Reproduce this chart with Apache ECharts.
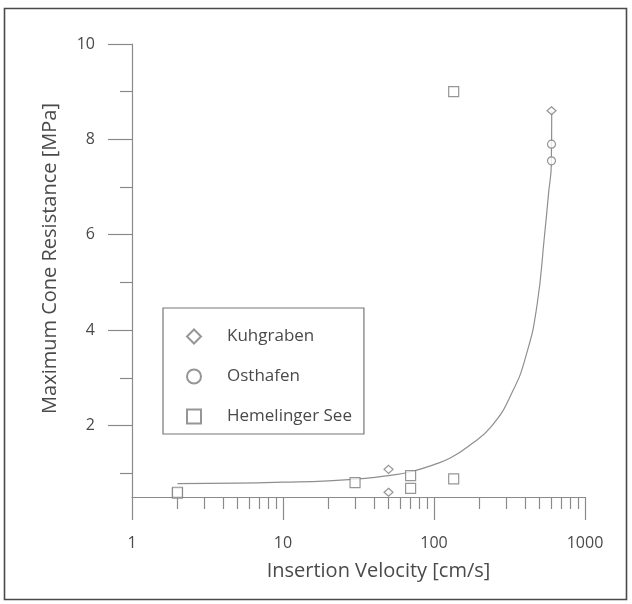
<!DOCTYPE html>
<html>
<head>
<meta charset="utf-8">
<script src="https://cdn.jsdelivr.net/npm/echarts@6/dist/echarts.min.js"></script>
<style>
  html, body { margin: 0; padding: 0; background: #fff; }
  #chart { width: 632px; height: 604px; }
</style>
</head>
<body>
<div id="chart"></div>
<script>
// measured points [velocity cm/s, max cone resistance MPa]
const kuhgraben = [[600, 8.6], [50, 1.08], [50, 0.6]];
const osthafen = [[600, 7.9], [600, 7.55]];
const hemelinger = [[2, 0.58], [2, 0.6], [30, 0.8], [70, 0.95], [70, 0.68], [135, 0.88], [135, 9.0]];

// fitted curve
const fitCurve = [
  [2, 0.78], [5, 0.79], [10, 0.81], [20, 0.84], [35, 0.89], [50, 0.95], [70, 1.03],
  [100, 1.18], [130, 1.33], [170, 1.57], [240, 1.98], [330, 2.7], [410, 3.5],
  [480, 4.5], [540, 6.0], [575, 6.9], [598, 7.45], [602, 8.6]
];

const majorTicksY = [2, 4, 6, 8, 10];
const minorTicksY = [1, 3, 5, 7, 9];
const minorTicksX = [2, 3, 4, 5, 6, 7, 8, 9, 20, 30, 40, 50, 60, 70, 80, 90, 200, 300, 400, 500, 600, 700, 800, 900];

const axisColor = '#8a8a8a';
const textColor = '#4a4a4a';
const markColor = '#7c7c7c';
const font = 'Open Sans';

const chart = echarts.init(document.getElementById('chart'));

const markStyle = {
  color: '#fff',
  borderColor: markColor,
  borderWidth: 1.2
};

chart.setOption({
  animation: false,
  backgroundColor: '#fff',
  graphic: [{
    type: 'rect',
    shape: { x: 4.5, y: 8.5, width: 622, height: 591 },
    style: { fill: 'none', stroke: '#4a4a4a', lineWidth: 1.6 },
    silent: true
  }],
  grid: { left: 132, right: 47, top: 44, bottom: 107 },
  legend: {
    orient: 'vertical',
    left: 163,
    top: 308,
    padding: [20, 12, 9, 23],
    itemGap: 23,
    itemWidth: 14,
    itemHeight: 14,
    borderColor: '#777',
    borderWidth: 1.2,
    textStyle: { color: textColor, fontFamily: font, fontSize: 17, padding: [0, 0, 0, 21] },
    data: [
      { name: 'Kuhgraben', icon: 'diamond' },
      { name: 'Osthafen', icon: 'circle' },
      { name: 'Hemelinger See', icon: 'rect' }
    ]
  },
  xAxis: [{
    type: 'log',
    logBase: 10,
    min: 1,
    max: 1000,
    position: 'bottom',
    name: 'Insertion Velocity [cm/s]',
    nameLocation: 'middle',
    nameGap: 64,
    nameTextStyle: { color: textColor, fontFamily: font, fontSize: 20, padding: [0, 0, 0, 40] },
    axisLine: { lineStyle: { color: axisColor, width: 1.2 } },
    axisTick: { length: 23, lineStyle: { color: axisColor, width: 1.2 } },
    axisLabel: {
      margin: 38, color: textColor, fontFamily: font, fontSize: 16,
      formatter: v => String(Math.round(v))
    },
    splitLine: { show: false }
  }, {
    // minor ticks of the log axis, placed in decade units
    type: 'value',
    min: 0,
    max: 3,
    position: 'bottom',
    axisLine: { show: false },
    axisTick: {
      length: 12,
      customValues: minorTicksX.map(v => Math.log10(v)),
      lineStyle: { color: axisColor, width: 1.2 }
    },
    axisLabel: { show: false },
    splitLine: { show: false }
  }],
  yAxis: [{
    type: 'value',
    min: 0.5,
    max: 10,
    position: 'left',
    name: 'Maximum Cone Resistance [MPa]',
    nameLocation: 'middle',
    nameGap: 72,
    nameTextStyle: { color: textColor, fontFamily: font, fontSize: 20, padding: [0, 0, 0, 24] },
    axisLine: { lineStyle: { color: axisColor, width: 1.2 } },
    axisTick: { length: 24, customValues: majorTicksY, lineStyle: { color: axisColor, width: 1.2 } },
    axisLabel: { customValues: majorTicksY, margin: 37, color: textColor, fontFamily: font, fontSize: 16 },
    splitLine: { show: false }
  }, {
    type: 'value',
    min: 0.5,
    max: 10,
    position: 'left',
    axisLine: { show: false },
    axisTick: { length: 12, customValues: minorTicksY, lineStyle: { color: axisColor, width: 1.2 } },
    axisLabel: { show: false },
    splitLine: { show: false }
  }],
  series: [{
    name: 'fit',
    type: 'line',
    data: fitCurve,
    smooth: 0.5,
    showSymbol: false,
    lineStyle: { color: '#8f8f8f', width: 1.2 },
    z: 1
  }, {
    name: 'Kuhgraben',
    type: 'scatter',
    symbol: 'diamond',
    symbolSize: [9, 8],
    data: kuhgraben,
    itemStyle: markStyle,
    z: 3
  }, {
    name: 'Osthafen',
    type: 'scatter',
    symbol: 'circle',
    symbolSize: 8,
    data: osthafen,
    itemStyle: markStyle,
    z: 3
  }, {
    name: 'Hemelinger See',
    type: 'scatter',
    symbol: 'rect',
    symbolSize: 10,
    data: hemelinger,
    itemStyle: markStyle,
    z: 3
  }]
});
</script>
</body>
</html>
